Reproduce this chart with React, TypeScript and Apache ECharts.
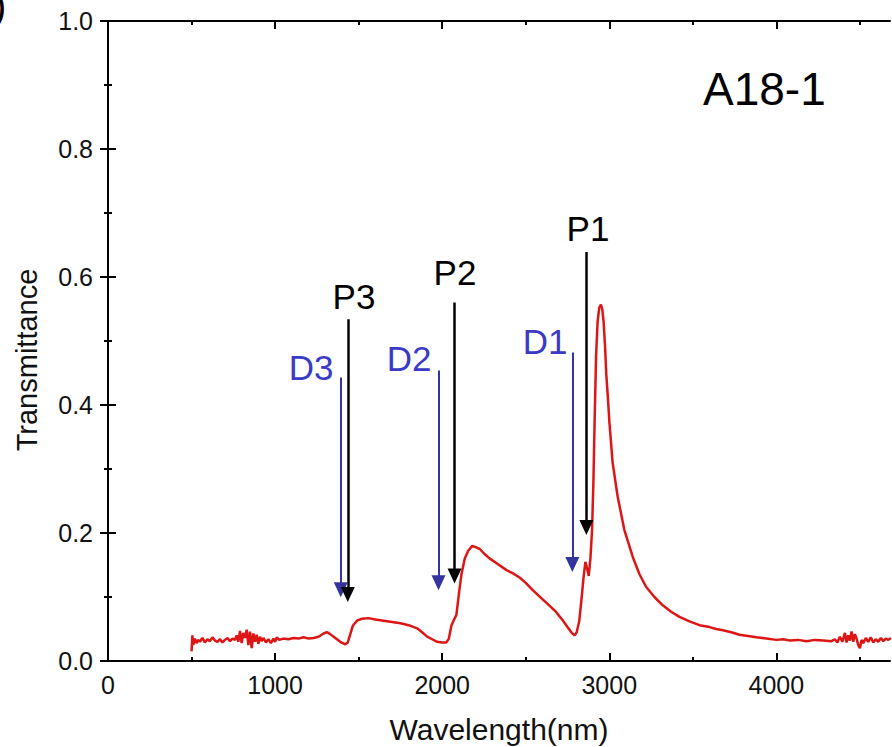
import React, { useEffect, useRef } from "react";
import * as echarts from "echarts";

// ---- data ----
const wavelength: number[] = [
  500, 505, 510, 520, 530, 540, 550, 565, 580, 595, 610, 625, 640, 655, 670, 685, 700, 715, 730, 745,
  760, 770, 780, 790, 800, 810, 820, 830, 840, 850, 860, 870, 880, 890, 900, 910, 920, 930, 945, 960,
  975, 990, 1000, 1010, 1025, 1050, 1080, 1110, 1140, 1170, 1200, 1230, 1260, 1290, 1310, 1330, 1360,
  1390, 1420, 1435, 1450, 1465, 1490, 1520, 1560, 1600, 1650, 1700, 1750, 1800, 1850, 1880, 1910, 1940,
  1970, 2000, 2025, 2040, 2055, 2070, 2085, 2100, 2115, 2135, 2155, 2180, 2200, 2225, 2250, 2285, 2330,
  2385, 2430, 2465, 2500, 2545, 2590, 2640, 2680, 2720, 2750, 2775, 2792, 2805, 2820, 2835, 2845, 2857,
  2867, 2877, 2887, 2897, 2905, 2912, 2921, 2930, 2940, 2950, 2958, 2966, 2975, 2982, 2992, 3001, 3020,
  3050, 3090, 3140, 3180, 3220, 3270, 3320, 3370, 3420, 3480, 3540, 3600, 3640, 3680, 3730, 3780, 3830,
  3880, 3940, 4000, 4040, 4080, 4130, 4180, 4230, 4280, 4330, 4350, 4365, 4380, 4395, 4410, 4420, 4430,
  4440, 4450, 4460, 4470, 4480, 4490, 4500, 4510, 4520, 4535, 4550, 4565, 4580, 4595, 4610, 4625, 4640,
  4655, 4670, 4685,
];
const transmittance: number[] = [
  0.015, 0.040, 0.025, 0.035, 0.028, 0.033, 0.030, 0.036, 0.029, 0.034, 0.031, 0.037, 0.032, 0.030, 0.034, 0.029, 0.033, 0.036, 0.031, 0.035,
  0.033, 0.040, 0.030, 0.047, 0.028, 0.044, 0.036, 0.049, 0.025, 0.046, 0.020, 0.043, 0.030, 0.041, 0.027, 0.038, 0.031, 0.036, 0.029, 0.034,
  0.028, 0.035, 0.030, 0.037, 0.033, 0.035, 0.034, 0.036, 0.035, 0.037, 0.035, 0.036, 0.038, 0.043, 0.045, 0.042, 0.036,
  0.030, 0.026, 0.029, 0.042, 0.055, 0.063, 0.066, 0.067, 0.065, 0.063, 0.061, 0.059, 0.056, 0.051, 0.045, 0.038, 0.034,
  0.030, 0.029, 0.029, 0.035, 0.055, 0.064, 0.072, 0.105, 0.135, 0.160, 0.172, 0.180, 0.178, 0.175, 0.168, 0.160, 0.152,
  0.142, 0.136, 0.130, 0.122, 0.110, 0.099, 0.087, 0.077, 0.064, 0.053, 0.044, 0.040, 0.045, 0.062, 0.100, 0.128, 0.155,
  0.145, 0.133, 0.160, 0.205, 0.280, 0.372, 0.476, 0.530, 0.552, 0.557, 0.550, 0.530, 0.490, 0.448, 0.410, 0.372, 0.310,
  0.257, 0.205, 0.163, 0.136, 0.116, 0.100, 0.087, 0.077, 0.069, 0.062, 0.056, 0.053, 0.050, 0.048, 0.045, 0.041, 0.039,
  0.037, 0.035, 0.033, 0.034, 0.032, 0.033, 0.031, 0.033, 0.032, 0.031, 0.034, 0.029, 0.038, 0.030, 0.044, 0.029, 0.040,
  0.032, 0.046, 0.030, 0.042, 0.035, 0.025, 0.020, 0.033, 0.028, 0.036, 0.030, 0.037, 0.029, 0.034, 0.030, 0.036, 0.031,
  0.035, 0.033, 0.036,
];

const xMajorTicks: number[] = [0, 1000, 2000, 3000, 4000];
const xMinorTicks: number[] = [500, 1500, 2500, 3500, 4500];

// arrow annotations: label, wavelength, arrow start (transmittance), arrow tip (transmittance)
const peakLabels: string[] = ["P1", "P2", "P3"];
const peakWavelengths: number[] = [2863, 2074, 1435];
const peakArrowTop: number[] = [0.639, 0.560, 0.534];
const peakArrowTip: number[] = [0.197, 0.121, 0.092];

const dipLabels: string[] = ["D1", "D2", "D3"];
const dipWavelengths: number[] = [2779, 1978, 1393];
const dipArrowTop: number[] = [0.482, 0.454, 0.443];
const dipArrowTip: number[] = [0.139, 0.1105, 0.0995];

const sampleName = "A18-1";
const xTitle = "Wavelength(nm)";
const yTitle = "Transmittance";

const FONT = "'Liberation Sans', Arial, Helvetica, sans-serif";
const X_MAX = 4680;

export default function App() {
  const ref = useRef<HTMLDivElement>(null);

  useEffect(() => {
    if (!ref.current) return;
    const chart = echarts.init(ref.current, null, { renderer: "svg" });

    const HEAD = 15;
    const headOffset = HEAD / 2 / 638; // symbol centred at line end -> shift so tip lands on value

    const arrowLines = (
      xs: number[], tops: number[], tips: number[], color: string, width: number
    ) =>
      xs.map((x, i) => [
        { coord: [x, tops[i]], lineStyle: { color, width, type: "solid" } },
        { coord: [x, tips[i] + headOffset] },
      ]);

    const tickStyle = { color: "#000", width: 2 };

    const option: any = {
      animation: false,
      backgroundColor: "#ffffff",
      textStyle: { fontFamily: FONT },
      grid: { left: 108, right: 2, top: 21, bottom: 86, containLabel: false, outerBoundsMode: "none" },
      xAxis: [
        {
          type: "value",
          min: 0,
          max: X_MAX,
          position: "bottom",
          name: xTitle,
          nameLocation: "middle",
          nameGap: 53,
          nameTextStyle: { fontSize: 30, color: "#111", fontFamily: FONT },
          axisLine: { show: true, lineStyle: { color: "#000", width: 2 } },
          axisTick: { show: true, inside: true, length: 8, customValues: xMajorTicks, lineStyle: tickStyle },
          axisLabel: {
            customValues: xMajorTicks,
            fontSize: 25,
            color: "#111",
            margin: 11,
            fontFamily: FONT,
            formatter: (v: number) => String(v),
          },
          splitLine: { show: false },
        },
        {
          type: "value",
          min: 0,
          max: X_MAX,
          position: "bottom",
          axisLine: { show: false },
          axisTick: { show: true, inside: true, length: 4, customValues: xMinorTicks, lineStyle: tickStyle },
          axisLabel: { show: false },
          splitLine: { show: false },
        },
        {
          type: "value",
          min: 0,
          max: X_MAX,
          position: "top",
          axisLine: { show: true, lineStyle: { color: "#000", width: 2 } },
          axisTick: { show: true, inside: true, length: 8, customValues: xMajorTicks, lineStyle: tickStyle },
          axisLabel: { show: false },
          splitLine: { show: false },
        },
        {
          type: "value",
          min: 0,
          max: X_MAX,
          position: "top",
          axisLine: { show: false },
          axisTick: { show: true, inside: true, length: 4, customValues: xMinorTicks, lineStyle: tickStyle },
          axisLabel: { show: false },
          splitLine: { show: false },
        },
      ],
      yAxis: [
        {
          type: "value",
          min: 0,
          max: 1,
          interval: 0.2,
          position: "left",
          axisLine: { show: true, lineStyle: { color: "#000", width: 2 } },
          axisTick: { show: true, inside: true, length: 8, lineStyle: tickStyle },
          minorTick: { show: true, splitNumber: 2, length: 4, lineStyle: tickStyle },
          axisLabel: {
            fontSize: 25,
            color: "#111",
            margin: 15,
            fontFamily: FONT,
            formatter: (v: number) => v.toFixed(1),
          },
          splitLine: { show: false },
          minorSplitLine: { show: false },
        },
        {
          type: "value",
          min: 0,
          max: 1,
          interval: 0.2,
          position: "right",
          axisLine: { show: true, lineStyle: { color: "#000", width: 2 } },
          axisTick: { show: true, inside: true, length: 8, lineStyle: tickStyle },
          minorTick: { show: true, splitNumber: 2, length: 4, lineStyle: tickStyle },
          axisLabel: { show: false },
          splitLine: { show: false },
          minorSplitLine: { show: false },
        },
      ],
      series: [
        {
          type: "line",
          xAxisIndex: 0,
          yAxisIndex: 0,
          showSymbol: false,
          symbol: "none",
          data: wavelength.map((w, i) => [w, transmittance[i]]),
          lineStyle: { color: "#dd1515", width: 2.5 },
          silent: true,
          markLine: {
            silent: true,
            symbol: ["none", "triangle"],
            symbolSize: [14, HEAD],
            label: { show: false },
            emphasis: { disabled: true },
            data: [
              ...arrowLines(dipWavelengths, dipArrowTop, dipArrowTip, "#34349e", 2),
              ...arrowLines(peakWavelengths, peakArrowTop, peakArrowTip, "#000000", 2.5),
            ],
          },
        },
      ],
      graphic: [
        {
          type: "text",
          x: 27,
          y: 360,
          rotation: Math.PI / 2,
          style: { text: yTitle, font: `29px ${FONT}`, fill: "#111", textAlign: "center", textVerticalAlign: "middle" },
        },
        {
          type: "text",
          left: 703,
          top: 66,
          style: { text: sampleName, font: `46px ${FONT}`, fill: "#000" },
        },
        {
          type: "text",
          x: -7,
          y: 6,
          style: { text: ")", font: `40px ${FONT}`, fill: "#000", textVerticalAlign: "middle" },
        },
        ...peakLabels.map((t, i) => ({
          type: "text",
          x: [588, 455, 354][i],
          y: [228, 272, 296][i],
          style: { text: t, font: `35px ${FONT}`, fill: "#000", textAlign: "center", textVerticalAlign: "middle" },
        })),
        ...dipLabels.map((t, i) => ({
          type: "text",
          x: [545, 409, 311][i],
          y: [341, 358, 367][i],
          style: { text: t, font: `35px ${FONT}`, fill: "#3a3ac4", textAlign: "center", textVerticalAlign: "middle" },
        })),
      ],
    };

    chart.setOption(option);
    return () => chart.dispose();
  }, []);

  return (
    <div
      ref={ref}
      style={{ position: "fixed", left: 0, top: 0, width: 892, height: 747, background: "#fff" }}
    />
  );
}
